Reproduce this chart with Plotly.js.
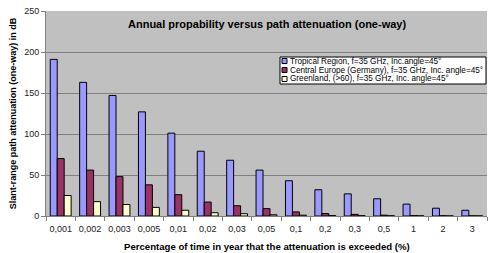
<!DOCTYPE html>
<html><head><meta charset="utf-8">
<script src="https://cdn.plot.ly/plotly-3.0.1.min.js"></script>
<style>html,body{margin:0;padding:0;background:#fff}#c{width:488px;height:253px}</style>
</head><body><div id="c"></div>
<script>
const categories = ["0,001","0,002","0,003","0,005","0,01","0,02","0,03","0,05","0,1","0,2","0,3","0,5","1","2","3"];
const tropical = [191, 163, 147, 127, 101, 79, 68, 56, 43, 32, 27, 21, 14.5, 9.5, 7];
const centralEurope = [70, 56, 48, 38, 26, 17, 12.5, 9, 5, 3, 2, 1, 0.5, 0.3, 0.2];
const greenland = [25, 17.5, 14, 10.5, 7, 4, 2.8, 1.5, 1, 0.5, 0.4, 0.3, 0.2, 0.1, 0.1];
const seriesNames = ["Tropical Region, f=35 GHz, Inc.angle=45°","Central Europe (Germany), f=35 GHz, Inc. angle=45°","Greenland, (>60), f=35 GHz, Inc. angle=45°"];
const colors = ["#9999FF","#993366","#FFFFCC"];
const F = "Liberation Sans, Arial, sans-serif";
const M = {l:46, r:1, t:11, b:37}, W = 488, H = 253;
const pw = W - M.l - M.r, ph = H - M.t - M.b;
const px = x => (x - M.l) / pw, py = y => (H - M.b - y) / ph;

const data = [tropical, centralEurope, greenland].map((v,i)=>({
  type:"bar", x:categories, y:v, name:seriesNames[i],
  marker:{color:colors[i], line:{color:"#000", width:1}}
}));

// manual legend
const shapes = [{type:"rect", xref:"paper", yref:"paper", x0:px(280), x1:px(486), y0:py(57), y1:py(84),
  fillcolor:"#fff", line:{color:"#000", width:1}}];
const annotations = [{text:"<b>Annual propability versus path attenuation (one-way)</b>", xref:"paper", yref:"paper",
    x:0.5, y:py(24), xanchor:"center", yanchor:"middle", showarrow:false, font:{size:11}},
  {text:"<b>Percentage of time in year that the attenuation is exceeded (%)</b>", xref:"paper", yref:"paper",
    x:0.5, y:py(247), xanchor:"center", yanchor:"middle", showarrow:false, font:{size:9.6}}];
const rowY = [61, 70, 79];
seriesNames.forEach((n,i)=>{
  shapes.push({type:"rect", xref:"paper", yref:"paper", x0:px(282), x1:px(287), y0:py(rowY[i]-2.5), y1:py(rowY[i]+2.5),
    fillcolor:colors[i], line:{color:"#000", width:1}});
  annotations.push({text:n, xref:"paper", yref:"paper", x:px(288), y:py(rowY[i]), xanchor:"left", yanchor:"middle",
    showarrow:false, font:{size:8.2}});
});

const layout = {
  width:W, height:H, margin:M,
  paper_bgcolor:"#fff", plot_bgcolor:"#C0C0C0",
  barmode:"group", bargap:0.29, bargroupgap:0,
  font:{family:F, size:9, color:"#000"},
  showlegend:false,
  xaxis:{type:"category", ticks:"outside", tickson:"boundaries", ticklen:4, tickcolor:"#808080", tickangle:0,
    ticklabelstandoff:4,
    showline:true, linecolor:"#808080", linewidth:1, tickfont:{size:9, color:"#222"}},
  yaxis:{range:[0,250], dtick:50, ticks:"outside", ticklen:4, tickcolor:"#808080",
    showline:true, linecolor:"#808080", gridcolor:"#808080", gridwidth:1, zeroline:false,
    tickfont:{size:9, color:"#222"},
    title:{text:"<b>Slant-range path attenuation (one-way) in dB</b>", font:{size:9}, standoff:6}},
  shapes, annotations
};
Plotly.newPlot("c", data, layout, {displayModeBar:false, staticPlot:true});
</script></body></html>
